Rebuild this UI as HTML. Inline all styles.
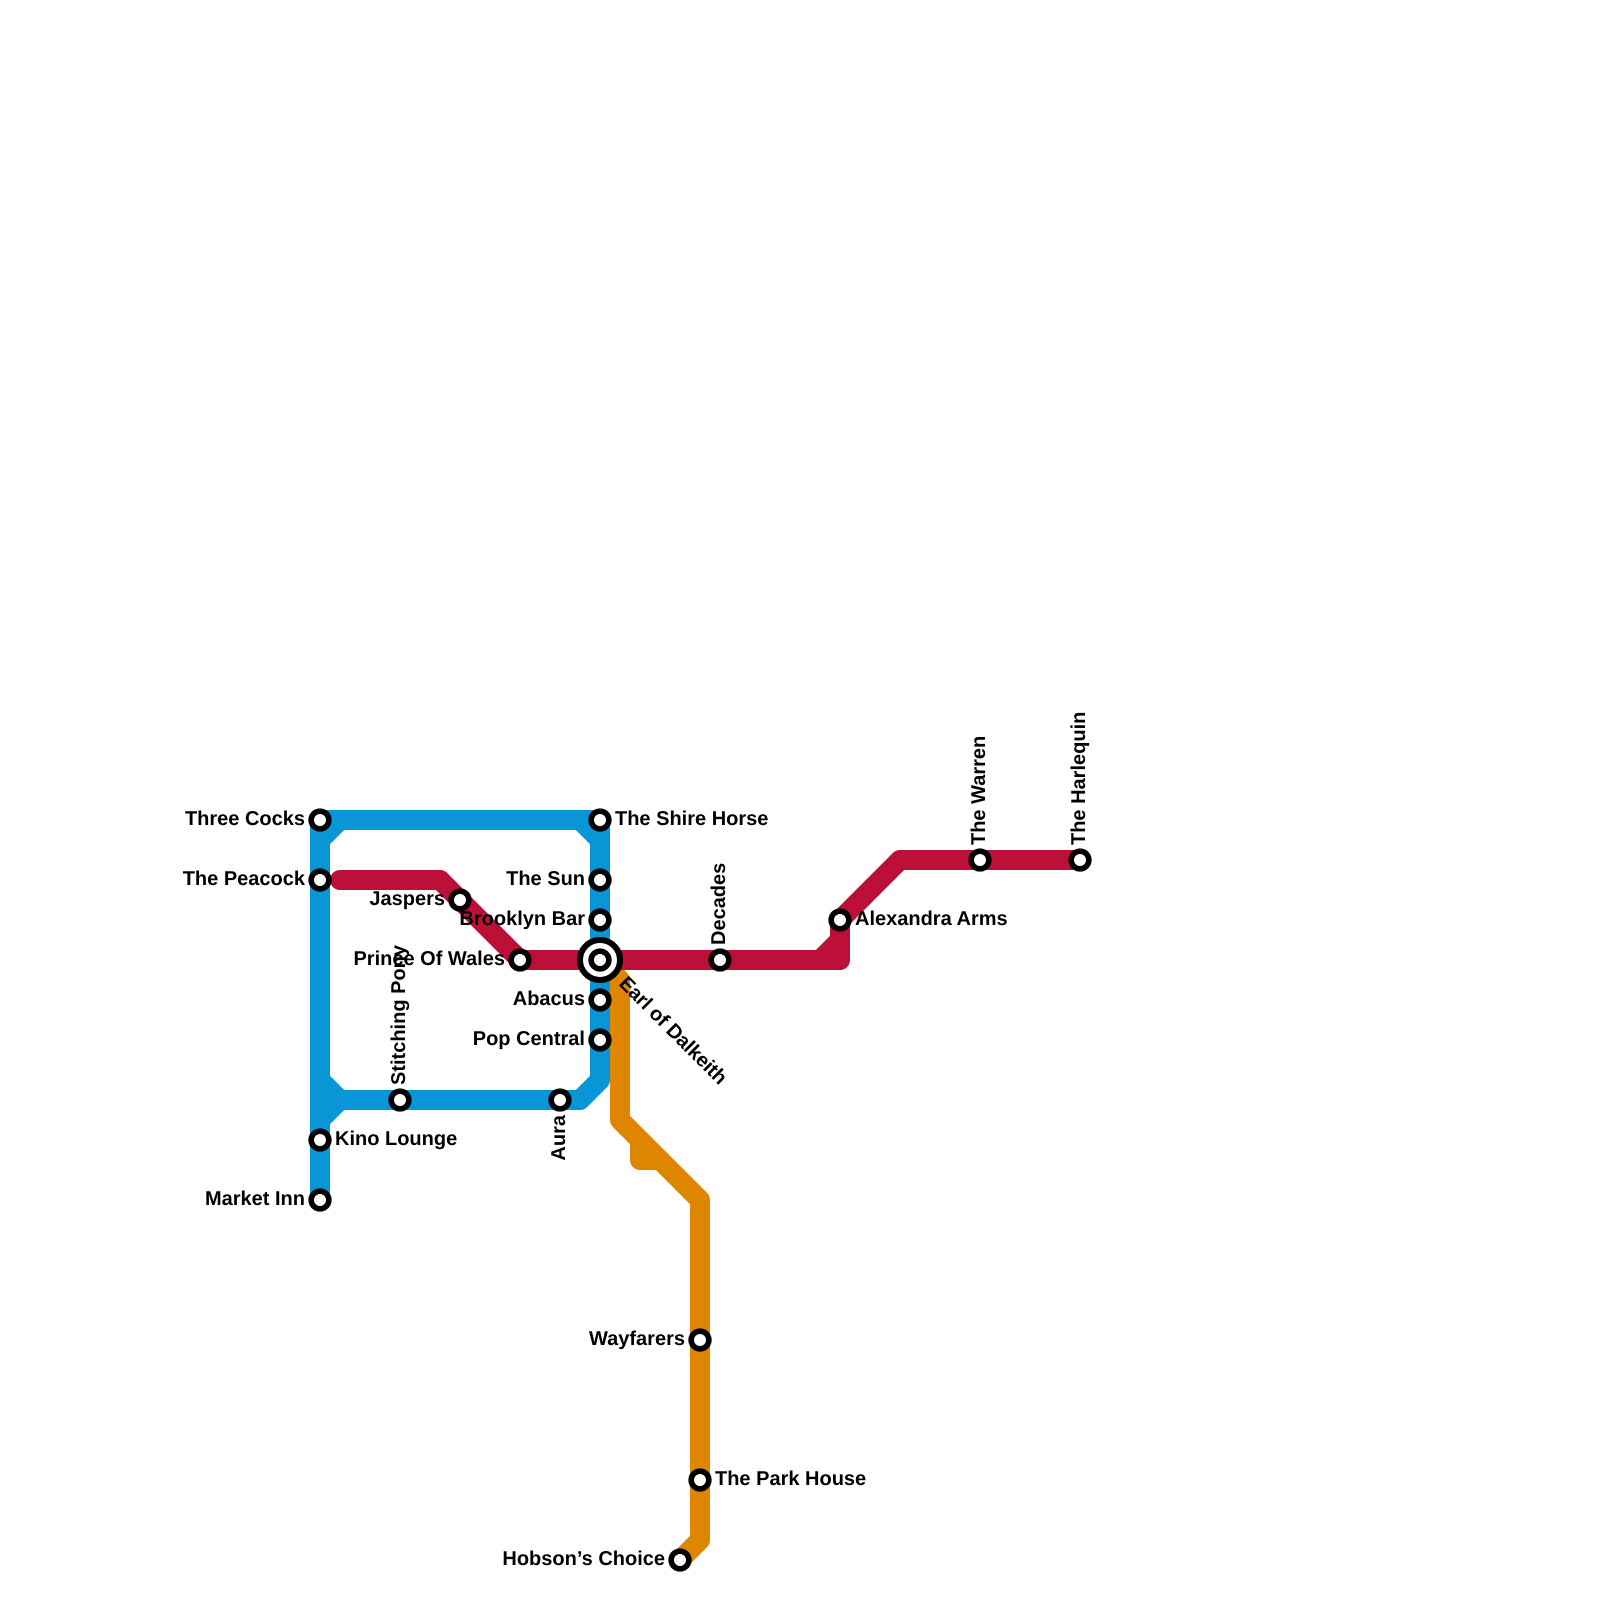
<!DOCTYPE html>
<html><head><meta charset="utf-8"><style>
html,body{margin:0;padding:0;background:#fff}
svg{display:block}
text{font-family:"Liberation Sans",Arial,sans-serif;font-weight:bold;font-size:20px;fill:#000;text-rendering:geometricPrecision}
.l{fill:none;stroke-width:20;stroke-linejoin:round;stroke-linecap:round}
.s{fill:#fff;stroke:#000;stroke-width:5.67}
.e{text-anchor:end}
</style></head><body>
<svg width="1600" height="1600" viewBox="0 0 1600 1600" xmlns="http://www.w3.org/2000/svg">
<g class="l" stroke="#df8600">
<path d="M600 960L620 980L620 1120L700 1200L700 1540L680 1560"/>
<path d="M640 1140L640 1160L660 1160"/>
</g>
<g class="l" stroke="#0896d7">
<path d="M320 1200L320 820L600 820L600 1080L580 1100L320 1100"/>
<path d="M320 840L340 820M600 840L580 820M320 1080L340 1100M320 1120L340 1100"/>
</g>
<g class="l" stroke="#bd1038">
<path d="M340 880L440 880L520 960L840 960L840 920L900 860L1080 860"/>
<path d="M820 960L840 940"/>
</g>
<circle cx="600" cy="960" r="20" fill="#fff" stroke="#000" stroke-width="6"/>
<g class="s">
<circle cx="320" cy="820" r="8.83"/><circle cx="320" cy="880" r="8.83"/><circle cx="320" cy="1140" r="8.83"/><circle cx="320" cy="1200" r="8.83"/>
<circle cx="400" cy="1100" r="8.83"/><circle cx="560" cy="1100" r="8.83"/>
<circle cx="600" cy="820" r="8.83"/><circle cx="600" cy="880" r="8.83"/><circle cx="600" cy="920" r="8.83"/><circle cx="600" cy="960" r="8.83"/><circle cx="600" cy="1000" r="8.83"/><circle cx="600" cy="1040" r="8.83"/>
<circle cx="520" cy="960" r="8.83"/><circle cx="460" cy="900" r="8.83"/><circle cx="720" cy="960" r="8.83"/><circle cx="840" cy="920" r="8.83"/>
<circle cx="980" cy="860" r="8.83"/><circle cx="1080" cy="860" r="8.83"/>
<circle cx="700" cy="1340" r="8.83"/><circle cx="700" cy="1480" r="8.83"/><circle cx="680" cy="1560" r="8.83"/>
</g>
<text class="e" x="305" y="825">Three Cocks</text>
<text class="e" x="305" y="885">The Peacock</text>
<text x="335" y="1145">Kino Lounge</text>
<text class="e" x="305" y="1205">Market Inn</text>
<text class="e" x="445" y="905">Jaspers</text>
<text class="e" x="505" y="965">Prince Of Wales</text>
<text x="615" y="825">The Shire Horse</text>
<text class="e" x="585" y="885">The Sun</text>
<text class="e" x="585" y="925">Brooklyn Bar</text>
<text class="e" x="585" y="1005">Abacus</text>
<text class="e" x="585" y="1045">Pop Central</text>
<text x="855" y="925">Alexandra Arms</text>
<text class="e" x="685" y="1345">Wayfarers</text>
<text x="715" y="1485">The Park House</text>
<text class="e" x="665" y="1565">Hobson’s Choice</text>
<text transform="translate(405 1085) rotate(-90)">Stitching Pony</text>
<text class="e" transform="translate(565 1115) rotate(-90)">Aura</text>
<text transform="translate(725 945) rotate(-90)">Decades</text>
<text transform="translate(985 845) rotate(-90)">The Warren</text>
<text transform="translate(1085 845) rotate(-90)">The Harlequin</text>
<text transform="translate(618 984.5) rotate(45)" textLength="143">Earl of Dalkeith</text>
</svg>
</body></html>
